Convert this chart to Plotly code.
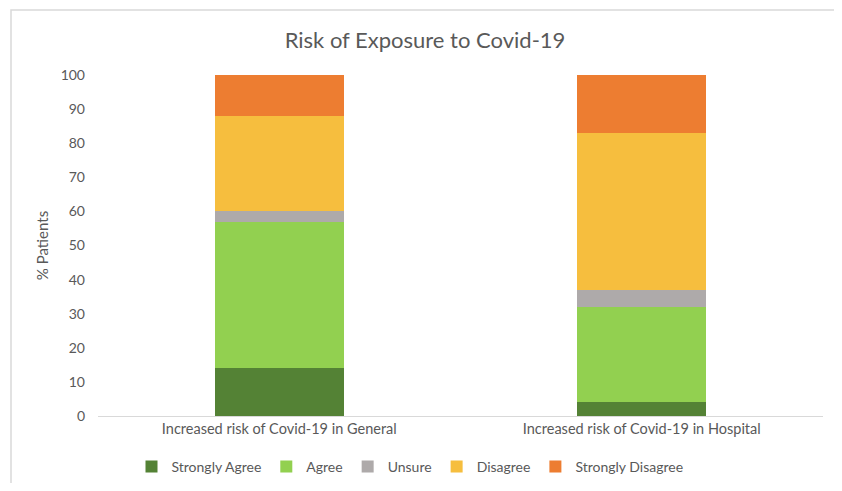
import plotly.graph_objects as go

categories = ["Increased risk of Covid-19 in General", "Increased risk of Covid-19 in Hospital"]
series_names = ["Strongly Agree", "Agree", "Unsure", "Disagree", "Strongly Disagree"]
strongly_agree = [14, 4]
agree = [43, 28]
unsure = [3, 5]
disagree = [28, 46]
strongly_disagree = [12, 17]
colors = ["#548235", "#92d050", "#aeaaaa", "#f6be3e", "#ed7d31"]
y_ticks = list(range(0, 101, 10))

# page body has an 8px margin on every side, so the figure is sized to fit inside it
OFF = 8
W, H = 842 - 2 * OFF, 491 - 2 * OFF
L, T = 98 - OFF, 75 - OFF
R = W - (823 - OFF)
B = H - (416 - OFF)
pw, ph = W - L - R, H - T - B

fig = go.Figure()
for name, vals, col in zip(series_names,
                           [strongly_agree, agree, unsure, disagree, strongly_disagree],
                           colors):
    fig.add_trace(go.Bar(x=categories, y=vals, name=name, marker_color=col,
                         marker_line_width=0, width=0.356))

font_fam = "Lato, 'Open Sans', sans-serif"
grey = "#595959"

def px_x(x):
    return (x - OFF - L) / pw

def px_y(y):
    return (H - B - (y - OFF)) / ph

# chart-area frame: only the top and left edges are visible in the picture
bx0, bx1 = px_x(11), px_x(842 + 20)
by0, by1 = px_y(491 + 20), px_y(10)
frame_path = f"M {bx0},{by0} L {bx0},{by1} L {bx1},{by1}"

fig.update_layout(
    width=W, height=H,
    barmode="stack",
    paper_bgcolor="white", plot_bgcolor="white",
    margin=dict(l=L, r=R, t=T, b=B, autoexpand=False),
    font=dict(family=font_fam, color=grey, size=14),
    title=dict(text="Risk of Exposure to Covid-19", x=(425 - OFF) / W, xanchor="center",
               xref="container",
               y=1 - (40 - OFF) / H, yanchor="middle",
               font=dict(size=22, color=grey, family=font_fam)),
    xaxis=dict(showline=True, linecolor="#d9d9d9", linewidth=1, ticks="",
               tickfont=dict(size=14.5, color=grey), showgrid=False),
    yaxis=dict(range=[0, 100], tickvals=y_ticks, showgrid=False, zeroline=False,
               showline=False, ticks="", tickfont=dict(size=14, color=grey),
               ticklabelstandoff=12,
               title=dict(text="% Patients", font=dict(size=15, color=grey), standoff=8)),
    legend=dict(orientation="h", x=px_x(410), xanchor="center", y=px_y(467), yanchor="middle",
                font=dict(size=14, color=grey), traceorder="normal",
                itemwidth=30, itemsizing="constant"),
    shapes=[dict(type="path", xref="paper", yref="paper", path=frame_path,
                 line=dict(color="#d9d9d9", width=1.5), layer="below")],
)

fig.write_html("out.html")
